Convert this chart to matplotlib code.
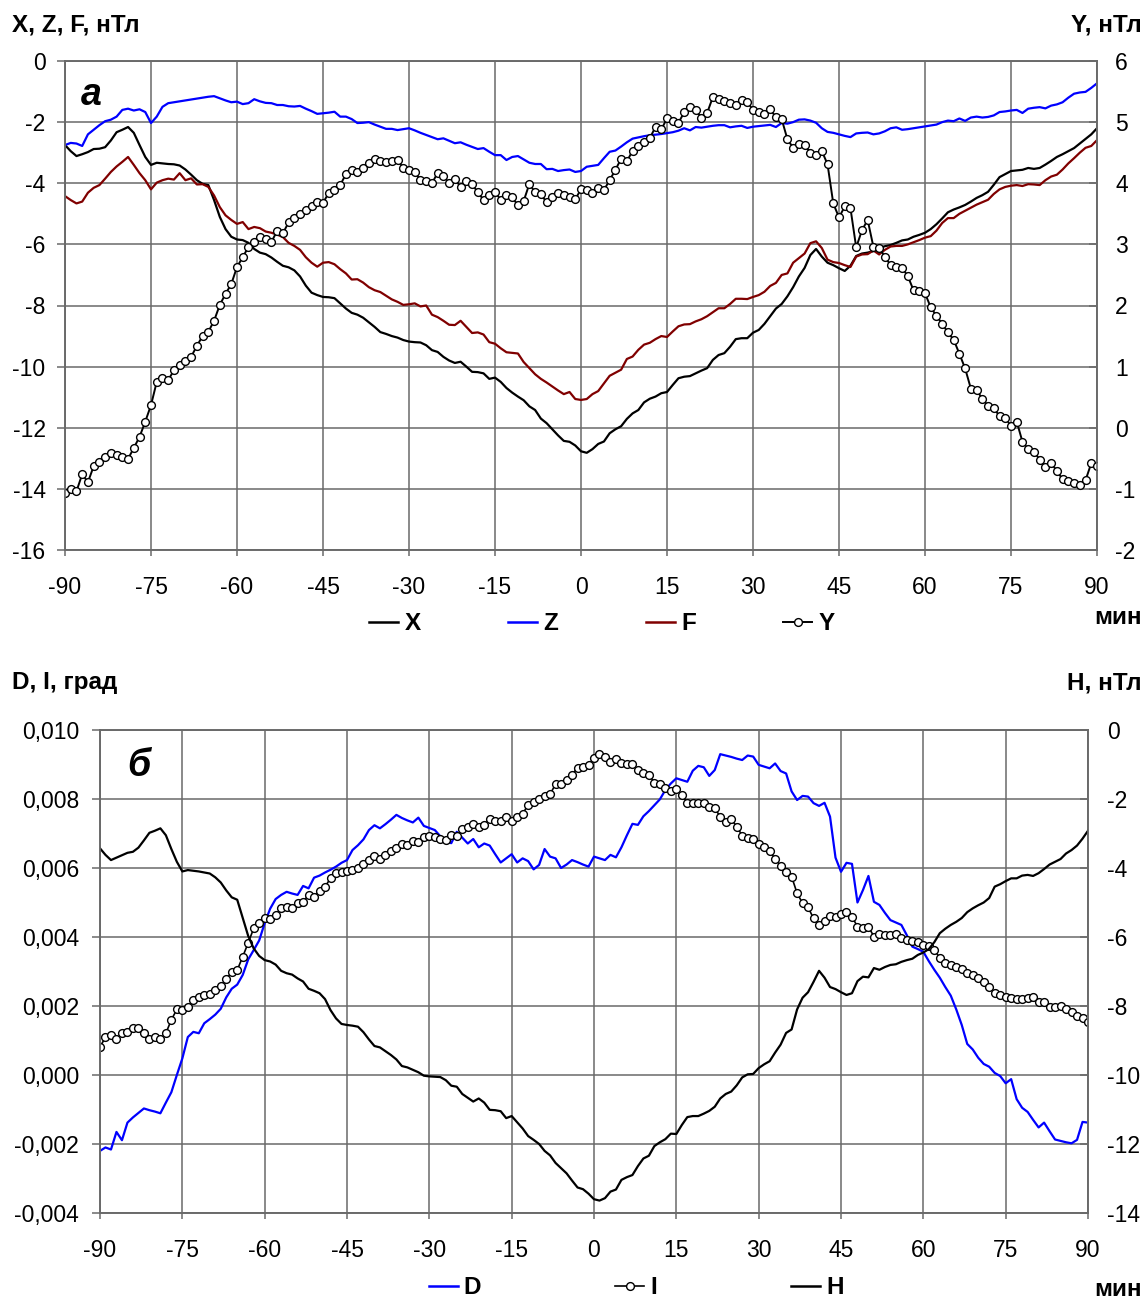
import numpy as np
import matplotlib
matplotlib.use('Agg')
import matplotlib.pyplot as plt
from matplotlib.ticker import FixedLocator, FuncFormatter
from matplotlib.lines import Line2D

plt.rcParams['font.family'] = ['Liberation Sans', 'DejaVu Sans']
plt.rcParams['axes.unicode_minus'] = False

# ---------------- data ----------------
minutes = list(range(-90, 91))
x_ticks = [-90, -75, -60, -45, -30, -15, 0, 15, 30, 45, 60, 75, 90]

# panel a (nT)
X_top = [
    -2.75, -2.95, -3.11, -3.05, -2.98, -2.88, -2.87, -2.82, -2.60, -2.33,
    -2.25, -2.16, -2.35, -2.75, -3.14, -3.40, -3.33, -3.35, -3.37, -3.38,
    -3.42, -3.55, -3.72, -3.90, -4.02, -4.06, -4.55, -5.10, -5.50, -5.75,
    -5.84, -5.86, -5.95, -6.15, -6.27, -6.32, -6.43, -6.57, -6.70, -6.75,
    -6.85, -7.05, -7.35, -7.58, -7.66, -7.72, -7.73, -7.76, -7.93, -8.10,
    -8.24, -8.30, -8.40, -8.55, -8.70, -8.87, -8.93, -9.00, -9.05, -9.13,
    -9.18, -9.20, -9.21, -9.30, -9.46, -9.52, -9.68, -9.80, -9.88, -9.84,
    -10.00, -10.17, -10.18, -10.22, -10.40, -10.36, -10.50, -10.70, -10.85, -10.98,
    -11.10, -11.30, -11.42, -11.70, -11.85, -12.05, -12.25, -12.43, -12.46, -12.58,
    -12.77, -12.82, -12.70, -12.53, -12.45, -12.18, -12.05, -11.95, -11.71, -11.53,
    -11.42, -11.17, -11.05, -10.98, -10.87, -10.83, -10.60, -10.38, -10.33, -10.31,
    -10.22, -10.13, -10.05, -9.78, -9.62, -9.56, -9.35, -9.10, -9.07, -9.07,
    -8.89, -8.80, -8.60, -8.35, -8.10, -7.95, -7.70, -7.40, -7.05, -6.77,
    -6.35, -6.15, -6.40, -6.60, -6.68, -6.78, -6.87, -6.70, -6.38, -6.30,
    -6.27, -6.22, -6.12, -6.06, -6.02, -5.95, -5.87, -5.84, -5.75, -5.69,
    -5.62, -5.50, -5.34, -5.15, -4.95, -4.86, -4.79, -4.71, -4.60, -4.48,
    -4.39, -4.28, -4.05, -3.80, -3.70, -3.60, -3.58, -3.56, -3.50, -3.53,
    -3.50, -3.39, -3.27, -3.14, -3.05, -2.95, -2.85, -2.70, -2.55, -2.40,
    -2.20]

Z_top = [
    -2.75, -2.68, -2.70, -2.78, -2.40, -2.25, -2.10, -1.97, -1.92, -1.82,
    -1.60, -1.56, -1.62, -1.58, -1.67, -2.03, -1.82, -1.50, -1.38, -1.35,
    -1.32, -1.29, -1.26, -1.23, -1.20, -1.17, -1.15, -1.22, -1.29, -1.35,
    -1.33, -1.41, -1.38, -1.25, -1.32, -1.37, -1.38, -1.44, -1.44, -1.48,
    -1.49, -1.47, -1.56, -1.64, -1.73, -1.71, -1.69, -1.66, -1.82, -1.82,
    -1.90, -2.03, -2.02, -2.00, -2.08, -2.15, -2.22, -2.22, -2.26, -2.23,
    -2.20, -2.27, -2.35, -2.42, -2.49, -2.56, -2.53, -2.61, -2.69, -2.66,
    -2.74, -2.81, -2.88, -2.85, -2.97, -3.08, -3.08, -3.24, -3.14, -3.11,
    -3.22, -3.33, -3.37, -3.37, -3.54, -3.53, -3.60, -3.57, -3.55, -3.63,
    -3.60, -3.46, -3.43, -3.40, -3.18, -2.97, -2.93, -2.80, -2.66, -2.54,
    -2.50, -2.46, -2.43, -2.41, -2.39, -2.36, -2.33, -2.28, -2.20, -2.27,
    -2.16, -2.18, -2.15, -2.12, -2.10, -2.10, -2.17, -2.14, -2.12, -2.19,
    -2.15, -2.13, -2.11, -2.09, -2.16, -2.03, -2.05, -2.00, -1.92, -1.91,
    -1.95, -2.02, -2.20, -2.32, -2.35, -2.40, -2.45, -2.49, -2.37, -2.35,
    -2.34, -2.40, -2.37, -2.30, -2.20, -2.17, -2.25, -2.23, -2.20, -2.17,
    -2.14, -2.11, -2.08, -2.00, -1.95, -1.97, -1.88, -1.96, -1.85, -1.82,
    -1.85, -1.83, -1.78, -1.67, -1.65, -1.62, -1.60, -1.70, -1.56, -1.53,
    -1.51, -1.55, -1.46, -1.42, -1.35, -1.20, -1.07, -1.03, -1.01, -0.88,
    -0.73]

F_top = [
    -4.42, -4.55, -4.66, -4.60, -4.31, -4.15, -4.06, -3.85, -3.63, -3.45,
    -3.30, -3.14, -3.40, -3.67, -3.90, -4.20, -3.98, -3.90, -3.85, -3.88,
    -3.67, -3.90, -3.84, -4.04, -4.03, -4.12, -4.40, -4.78, -5.05, -5.20,
    -5.33, -5.27, -5.50, -5.43, -5.47, -5.58, -5.62, -5.68, -5.76, -5.95,
    -6.05, -6.18, -6.42, -6.60, -6.73, -6.60, -6.58, -6.65, -6.81, -6.95,
    -7.15, -7.14, -7.25, -7.40, -7.50, -7.56, -7.68, -7.80, -7.88, -7.98,
    -7.96, -7.93, -8.03, -8.00, -8.30, -8.38, -8.50, -8.63, -8.64, -8.50,
    -8.70, -8.90, -8.88, -8.95, -9.20, -9.25, -9.40, -9.53, -9.55, -9.57,
    -9.85, -10.05, -10.25, -10.40, -10.52, -10.65, -10.78, -10.90, -10.83, -11.06,
    -11.09, -11.06, -10.90, -10.80, -10.55, -10.30, -10.20, -10.10, -9.75, -9.67,
    -9.45, -9.28, -9.22, -9.10, -9.00, -9.03, -8.85, -8.68, -8.62, -8.61,
    -8.52, -8.45, -8.35, -8.22, -8.09, -8.09, -7.95, -7.78, -7.78, -7.79,
    -7.72, -7.66, -7.55, -7.36, -7.26, -7.00, -6.95, -6.60, -6.45, -6.30,
    -5.96, -5.90, -6.12, -6.50, -6.58, -6.61, -6.68, -6.74, -6.40, -6.33,
    -6.32, -6.20, -6.33, -6.18, -6.07, -6.05, -6.05, -6.00, -5.93, -5.86,
    -5.78, -5.73, -5.55, -5.30, -5.14, -5.14, -5.00, -4.90, -4.80, -4.70,
    -4.62, -4.54, -4.35, -4.20, -4.12, -4.08, -4.06, -4.09, -4.03, -4.04,
    -4.06, -3.90, -3.78, -3.72, -3.55, -3.35, -3.18, -3.00, -2.84, -2.78,
    -2.59]

Y_top = [
    -1.07, -1.00, -1.04, -0.76, -0.89, -0.63, -0.56, -0.48, -0.42, -0.45,
    -0.48, -0.51, -0.33, -0.15, 0.10, 0.37, 0.75, 0.81, 0.78, 0.94,
    1.03, 1.09, 1.16, 1.34, 1.50, 1.57, 1.75, 2.01, 2.19, 2.35,
    2.63, 2.79, 2.96, 3.04, 3.12, 3.08, 3.04, 3.22, 3.18, 3.36,
    3.43, 3.50, 3.56, 3.63, 3.70, 3.68, 3.84, 3.89, 3.97, 4.15,
    4.22, 4.19, 4.25, 4.33, 4.40, 4.36, 4.34, 4.36, 4.38, 4.25,
    4.22, 4.18, 4.05, 4.03, 4.00, 4.17, 4.12, 4.00, 4.07, 3.94,
    4.03, 3.99, 3.85, 3.73, 3.80, 3.86, 3.73, 3.81, 3.77, 3.64,
    3.71, 3.99, 3.85, 3.82, 3.69, 3.77, 3.84, 3.81, 3.77, 3.74,
    3.90, 3.89, 3.84, 3.92, 3.89, 4.05, 4.22, 4.40, 4.36, 4.53,
    4.61, 4.67, 4.74, 4.92, 4.88, 5.06, 5.02, 4.99, 5.16, 5.24,
    5.20, 5.07, 5.15, 5.41, 5.38, 5.35, 5.31, 5.28, 5.36, 5.33,
    5.20, 5.17, 5.13, 5.21, 5.08, 5.05, 4.72, 4.58, 4.65, 4.63,
    4.50, 4.46, 4.53, 4.31, 3.67, 3.44, 3.62, 3.59, 2.95, 3.23,
    3.40, 2.96, 2.94, 2.80, 2.66, 2.63, 2.62, 2.48, 2.25, 2.23,
    2.20, 1.97, 1.83, 1.70, 1.56, 1.44, 1.21, 0.97, 0.64, 0.62,
    0.47, 0.36, 0.32, 0.19, 0.16, 0.03, 0.10, -0.23, -0.35, -0.39,
    -0.52, -0.65, -0.57, -0.71, -0.84, -0.87, -0.90, -0.93, -0.86, -0.58,
    -0.62]

# panel b: D, I in degrees, H in nT
D_bot = [
    -0.00220, -0.00210, -0.00216, -0.00165, -0.00189, -0.00138, -0.00123, -0.00110, -0.00097, -0.00102,
    -0.00106, -0.00111, -0.00080, -0.00050, 0.00000, 0.00048, 0.00110, 0.00125, 0.00121, 0.00150,
    0.00162, 0.00175, 0.00192, 0.00225, 0.00250, 0.00262, 0.00290, 0.00335, 0.00362, 0.00390,
    0.00440, 0.00482, 0.00510, 0.00522, 0.00531, 0.00526, 0.00522, 0.00548, 0.00541, 0.00572,
    0.00578, 0.00587, 0.00595, 0.00604, 0.00615, 0.00623, 0.00652, 0.00666, 0.00683, 0.00710,
    0.00724, 0.00715, 0.00727, 0.00740, 0.00754, 0.00745, 0.00738, 0.00732, 0.00746, 0.00722,
    0.00716, 0.00710, 0.00692, 0.00676, 0.00672, 0.00705, 0.00688, 0.00671, 0.00684, 0.00660,
    0.00671, 0.00665, 0.00640, 0.00616, 0.00628, 0.00640, 0.00616, 0.00628, 0.00620, 0.00596,
    0.00609, 0.00655, 0.00633, 0.00628, 0.00600, 0.00610, 0.00623, 0.00617, 0.00610, 0.00604,
    0.00633, 0.00628, 0.00623, 0.00638, 0.00631, 0.00660, 0.00695, 0.00728, 0.00725, 0.00750,
    0.00765, 0.00782, 0.00799, 0.00826, 0.00845, 0.00860, 0.00855, 0.00850, 0.00882, 0.00896,
    0.00892, 0.00867, 0.00884, 0.00930, 0.00926, 0.00922, 0.00917, 0.00913, 0.00926, 0.00923,
    0.00899, 0.00894, 0.00889, 0.00903, 0.00881, 0.00874, 0.00822, 0.00797, 0.00809, 0.00807,
    0.00788, 0.00780, 0.00789, 0.00749, 0.00630, 0.00589, 0.00615, 0.00612, 0.00500, 0.00536,
    0.00577, 0.00502, 0.00493, 0.00470, 0.00449, 0.00442, 0.00435, 0.00405, 0.00372, 0.00365,
    0.00357, 0.00330, 0.00305, 0.00282, 0.00255, 0.00230, 0.00190, 0.00145, 0.00090, 0.00074,
    0.00050, 0.00032, 0.00024, 0.00006, -0.00003, -0.00024, -0.00012, -0.00070, -0.00095, -0.00107,
    -0.00130, -0.00152, -0.00138, -0.00163, -0.00187, -0.00191, -0.00195, -0.00198, -0.00188, -0.00136,
    -0.00138]

I_bot = [
    0.00082, 0.00109, 0.00115, 0.00103, 0.00122, 0.00125, 0.00135, 0.00135, 0.00121, 0.00103,
    0.00109, 0.00103, 0.00121, 0.00160, 0.00190, 0.00188, 0.00196, 0.00217, 0.00227, 0.00232,
    0.00235, 0.00246, 0.00258, 0.00277, 0.00299, 0.00304, 0.00343, 0.00383, 0.00425, 0.00440,
    0.00454, 0.00451, 0.00464, 0.00483, 0.00488, 0.00483, 0.00498, 0.00502, 0.00522, 0.00517,
    0.00533, 0.00546, 0.00570, 0.00585, 0.00589, 0.00592, 0.00594, 0.00599, 0.00612, 0.00623,
    0.00635, 0.00626, 0.00638, 0.00650, 0.00657, 0.00671, 0.00667, 0.00678, 0.00676, 0.00689,
    0.00693, 0.00689, 0.00684, 0.00681, 0.00696, 0.00694, 0.00713, 0.00720, 0.00727, 0.00718,
    0.00725, 0.00741, 0.00736, 0.00737, 0.00749, 0.00736, 0.00747, 0.00757, 0.00783, 0.00792,
    0.00799, 0.00809, 0.00814, 0.00843, 0.00843, 0.00855, 0.00870, 0.00891, 0.00892, 0.00898,
    0.00920, 0.00930, 0.00923, 0.00908, 0.00916, 0.00905, 0.00901, 0.00901, 0.00884, 0.00874,
    0.00871, 0.00847, 0.00843, 0.00831, 0.00823, 0.00828, 0.00812, 0.00789, 0.00789, 0.00787,
    0.00787, 0.00778, 0.00773, 0.00749, 0.00734, 0.00742, 0.00720, 0.00694, 0.00688, 0.00684,
    0.00671, 0.00662, 0.00650, 0.00626, 0.00607, 0.00589, 0.00575, 0.00527, 0.00498, 0.00486,
    0.00454, 0.00435, 0.00447, 0.00461, 0.00457, 0.00467, 0.00473, 0.00459, 0.00430, 0.00425,
    0.00430, 0.00401, 0.00409, 0.00406, 0.00406, 0.00409, 0.00396, 0.00391, 0.00388, 0.00386,
    0.00377, 0.00375, 0.00362, 0.00340, 0.00326, 0.00318, 0.00314, 0.00306, 0.00297, 0.00291,
    0.00282, 0.00270, 0.00254, 0.00238, 0.00232, 0.00227, 0.00222, 0.00219, 0.00219, 0.00222,
    0.00227, 0.00212, 0.00212, 0.00198, 0.00196, 0.00200, 0.00190, 0.00183, 0.00171, 0.00164,
    0.00154]

H_bot = [
    -3.43, -3.62, -3.77, -3.70, -3.63, -3.56, -3.53, -3.41, -3.20, -2.98,
    -2.92, -2.85, -3.05, -3.45, -3.82, -4.10, -4.06, -4.08, -4.10, -4.13,
    -4.16, -4.27, -4.42, -4.65, -4.85, -4.92, -5.45, -5.97, -6.33, -6.55,
    -6.67, -6.71, -6.80, -6.98, -7.05, -7.09, -7.20, -7.29, -7.50, -7.56,
    -7.63, -7.80, -8.12, -8.36, -8.52, -8.55, -8.57, -8.60, -8.76, -8.97,
    -9.16, -9.20, -9.31, -9.42, -9.55, -9.74, -9.78, -9.85, -9.92, -10.02,
    -10.04, -10.05, -10.06, -10.15, -10.31, -10.34, -10.55, -10.66, -10.77, -10.68,
    -10.80, -11.01, -11.02, -11.05, -11.25, -11.19, -11.37, -11.55, -11.77, -11.88,
    -12.00, -12.20, -12.33, -12.55, -12.70, -12.85, -13.06, -13.26, -13.31, -13.44,
    -13.60, -13.64, -13.57, -13.38, -13.32, -13.04, -12.96, -12.90, -12.64, -12.42,
    -12.34, -12.06, -11.95, -11.86, -11.70, -11.71, -11.45, -11.22, -11.19, -11.19,
    -11.12, -11.04, -10.92, -10.68, -10.55, -10.48, -10.30, -10.07, -9.98, -9.97,
    -9.80, -9.69, -9.60, -9.35, -9.12, -8.78, -8.68, -8.10, -7.76, -7.60,
    -7.30, -6.98, -7.18, -7.45, -7.51, -7.60, -7.68, -7.63, -7.28, -7.15,
    -7.17, -6.90, -6.95, -6.87, -6.81, -6.79, -6.72, -6.67, -6.63, -6.52,
    -6.45, -6.35, -6.15, -5.89, -5.76, -5.65, -5.56, -5.45, -5.28, -5.17,
    -5.08, -5.00, -4.87, -4.54, -4.47, -4.38, -4.30, -4.30, -4.22, -4.20,
    -4.23, -4.15, -4.03, -3.90, -3.82, -3.74, -3.58, -3.48, -3.35, -3.15,
    -2.92]

top_left_ticks = [0, -2, -4, -6, -8, -10, -12, -14, -16]
top_right_ticks = [6, 5, 4, 3, 2, 1, 0, -1, -2]
bot_left_ticks = [0.010, 0.008, 0.006, 0.004, 0.002, 0.000, -0.002, -0.004]
bot_right_ticks = [0, -2, -4, -6, -8, -10, -12, -14]

# ---------------- style ----------------
W, Hh = 1145, 1299
GRID = '#6a6a6a'
FS = 16.5
TFS = 17.5
BLUE = '#0000ff'
DRED = '#800000'

fig = plt.figure(figsize=(W / 100, Hh / 100), dpi=100)


def frac_box(x0, y0, x1, y1):
    return [x0 / W, 1 - y1 / Hh, (x1 - x0) / W, (y1 - y0) / Hh]


def style_axes(ax, axr, lpad, rpad):
    ax.set_xlim(-90, 90)
    ax.xaxis.set_major_locator(FixedLocator(x_ticks))
    ax.grid(True, color=GRID, lw=1.1)
    ax.set_axisbelow(True)
    for a in (ax, axr):
        for s in a.spines.values():
            s.set_color(GRID)
            s.set_linewidth(1.2)
    ax.tick_params(axis='x', direction='out', length=4, width=1.1, color=GRID,
                   labelsize=FS, pad=15)
    ax.tick_params(axis='y', direction='out', length=6, width=1.1, color=GRID,
                   labelsize=FS, pad=lpad)
    axr.tick_params(axis='y', direction='in', length=6, width=1.1, color=GRID,
                    labelsize=FS, pad=rpad)


# ---- panel a ----
ax1 = fig.add_axes(frac_box(65, 61, 1097, 550))
ax1r = ax1.twinx()
ax1.plot(minutes, X_top, color='black', lw=1.6, label='X')
ax1.plot(minutes, Z_top, color=BLUE, lw=1.6, label='Z')
ax1.plot(minutes, F_top, color=DRED, lw=1.6, label='F')
ax1r.plot(minutes, Y_top, color='black', lw=1.4, marker='o', ms=5.6,
          mfc='white', mec='black', mew=1.0, label='Y')
ax1.set_ylim(-16, 0)
ax1.yaxis.set_major_locator(FixedLocator(top_left_ticks))
ax1r.set_ylim(-2, 6)
ax1r.yaxis.set_major_locator(FixedLocator(top_right_ticks))
style_axes(ax1, ax1r, 8, 13)
ax1.yaxis.set_major_formatter(FuncFormatter(lambda v, p: f"{v:g}"))
ax1r.yaxis.set_major_formatter(FuncFormatter(lambda v, p: f"{v:g}"))

fig.text(12 / W, 1 - 25 / Hh, 'X, Z, F, нТл', fontsize=TFS, fontweight='bold',
         ha='left', va='center')
fig.text(1142 / W, 1 - 25 / Hh, 'Y, нТл', fontsize=TFS, fontweight='bold',
         ha='right', va='center')
fig.text(81 / W, 1 - 95 / Hh, 'а', fontsize=27, fontweight='bold',
         style='italic', ha='left', va='center')
fig.text(1142 / W, 1 - 618 / Hh, 'мин', fontsize=TFS, fontweight='bold',
         ha='right', va='center')

h1 = [Line2D([], [], color='black', lw=1.8),
      Line2D([], [], color=BLUE, lw=1.8),
      Line2D([], [], color=DRED, lw=1.8),
      Line2D([], [], color='black', lw=1.4, marker='o', ms=5.6, mfc='white',
             mec='black', mew=1.0)]
leg1 = fig.legend(h1, ['X', 'Z', 'F', 'Y'], loc='center',
                  bbox_to_anchor=(602 / W, 1 - 624 / Hh), ncol=4, frameon=False,
                  prop={'size': TFS, 'weight': 'bold'}, handlelength=1.2,
                  handletextpad=0.25, columnspacing=3.6, numpoints=1)

# ---- panel b ----
ax2 = fig.add_axes(frac_box(100, 730, 1088, 1213))
ax2r = ax2.twinx()
ax2.plot(minutes, D_bot, color=BLUE, lw=1.6, label='D')
ax2.plot(minutes, I_bot, color='black', lw=1.2, marker='o', ms=5.6,
         mfc='white', mec='black', mew=1.0, label='I')
ax2r.plot(minutes, H_bot, color='black', lw=1.6, label='H')
ax2.set_ylim(-0.004, 0.010)
ax2.yaxis.set_major_locator(FixedLocator(bot_left_ticks))
ax2r.set_ylim(-14, 0)
ax2r.yaxis.set_major_locator(FixedLocator(bot_right_ticks))
style_axes(ax2, ax2r, 9, 14)


def comma3(v, p):
    s = f"{round(v, 6):.3f}"
    if s == '-0.000':
        s = '0.000'
    return s.replace('.', ',')


ax2.yaxis.set_major_formatter(FuncFormatter(comma3))
ax2r.yaxis.set_major_formatter(FuncFormatter(lambda v, p: f"{v:g}"))

fig.text(12 / W, 1 - 683 / Hh, 'D, I, град', fontsize=TFS, fontweight='bold',
         ha='left', va='center')
fig.text(1142 / W, 1 - 683 / Hh, 'H, нТл', fontsize=TFS, fontweight='bold',
         ha='right', va='center')
fig.text(127 / W, 1 - 766 / Hh, 'б', fontsize=27, fontweight='bold',
         style='italic', ha='left', va='center')
fig.text(1142 / W, 1 - 1290 / Hh, 'мин', fontsize=TFS, fontweight='bold',
         ha='right', va='center')

h2 = [Line2D([], [], color=BLUE, lw=1.8),
      Line2D([], [], color='black', lw=1.2, marker='o', ms=5.6, mfc='white',
             mec='black', mew=1.0),
      Line2D([], [], color='black', lw=1.8)]
leg2 = fig.legend(h2, ['D', 'I', 'H'], loc='center',
                  bbox_to_anchor=(636 / W, 1 - 1288 / Hh), ncol=3, frameon=False,
                  prop={'size': TFS, 'weight': 'bold'}, handlelength=1.2,
                  handletextpad=0.25, columnspacing=5.5, numpoints=1)

fig.savefig('out.png', dpi=100)
